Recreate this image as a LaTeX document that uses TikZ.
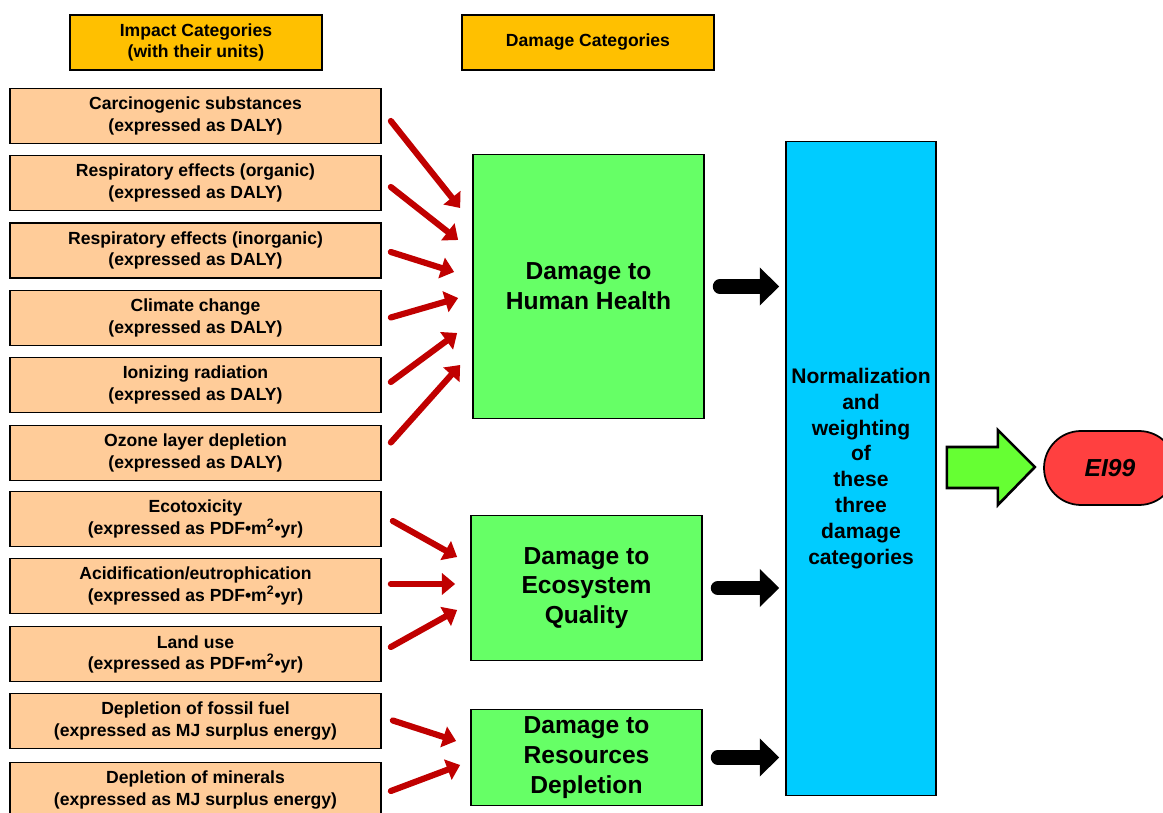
\documentclass[tikz,border=0pt]{standalone}
\usepackage{fontspec}
\setmainfont{Liberation Sans}
\usetikzlibrary{calc}
\usetikzlibrary{arrows.meta}
\usetikzlibrary{shapes.misc}
\definecolor{hdrorange}{HTML}{FFC000}
\definecolor{impactpeach}{HTML}{FFCC99}
\definecolor{dmggreen}{HTML}{66FF66}
\definecolor{normblue}{HTML}{00CCFF}
\definecolor{eired}{HTML}{FF4040}
\definecolor{arrred}{HTML}{C00000}
\definecolor{arrgreen}{HTML}{66FF33}

\begin{document}
\begin{tikzpicture}[x=0.02cm, y=-0.02cm,
    header/.style={rectangle, draw=black, line width=1pt, fill=hdrorange, inner sep=0pt, minimum width=5.04cm, minimum height=1.1cm, align=center, font=\fontsize{10}{11.5}\selectfont\bfseries},
    impact/.style={rectangle, draw=black, line width=1pt, fill=impactpeach, inner sep=0pt, minimum width=7.42cm, minimum height=1.1cm, align=center, font=\fontsize{10}{12}\selectfont\bfseries}]
    \tikzset{damage/.style={rectangle, draw=black, line width=1pt, fill=dmggreen, inner sep=0pt, minimum width=4.62cm, align=center, font=\fontsize{14}{17}\selectfont\bfseries}}
    \tikzset{redarr/.style={draw=arrred, line width=3.5pt, line cap=round, -{Triangle[width=12pt, length=7.5pt]}},
    blackarr/.style={draw=black, line width=8pt, line cap=round, -{Triangle[width=21pt, length=11pt]}, shorten <=8.5pt, shorten >=3.4pt}}
    \useasboundingbox (0,0) rectangle (1163,813);
    \def\unitpdf{(expressed as PDF\textbullet m\textsuperscript{2}\textbullet yr)}

    % headers
    \node[header] (h1) at (196,42.5) {Impact Categories\\(with their units)};
    \node[header] (h2) at (588,42.5) {Damage Categories};

    % impact categories
    \node[impact] (c1) at (195.5,116) {Carcinogenic substances\\(expressed as DALY)};
    \node[impact] (c2) at (195.5,183) {Respiratory effects (organic)\\(expressed as DALY)};
    \node[impact] (c3) at (195.5,250.5) {Respiratory effects (inorganic)\\(expressed as DALY)};
    \node[impact] (c4) at (195.5,318) {Climate change\\(expressed as DALY)};
    \node[impact] (c5) at (195.5,385) {Ionizing radiation\\(expressed as DALY)};
    \node[impact] (c6) at (195.5,453) {Ozone layer depletion\\(expressed as DALY)};
    \node[impact] (c7) at (195.5,519) {Ecotoxicity\\\unitpdf};
    \node[impact] (c8) at (195.5,586) {Acidification/eutrophication\\\unitpdf};
    \node[impact] (c9) at (195.5,654) {Land use\\\unitpdf};
    \node[impact] (c10) at (195.5,721) {Depletion of fossil fuel\\(expressed as MJ surplus energy)};
    \node[impact] (c11) at (195.5,790) {Depletion of minerals\\(expressed as MJ surplus energy)};

    % damage categories
    \node[damage, minimum height=5.28cm] (hh) at (588.5,286.5) {Damage to\\Human Health};
    \node[damage, minimum height=2.9cm] (eq) at (586.5,588) {Damage to\\Ecosystem\\Quality};
    \node[damage, minimum height=1.92cm] (rd) at (586.5,757.5) {Damage to\\Resources\\Depletion};

    \node[rectangle, draw=black, line width=1pt, fill=normblue, inner sep=0pt, minimum width=3cm, minimum height=13.08cm, align=center, font=\fontsize{12}{14.7}\selectfont\bfseries] (norm) at (861,468.5) {Normalization\\and\\weighting\\of\\these\\three\\damage\\categories};

    \node[rounded rectangle, draw=black, line width=1pt, fill=eired, inner sep=0pt, minimum width=2.64cm, minimum height=1.48cm, font=\fontsize{14}{17}\selectfont\bfseries\itshape] (ei) at (1110,468) {EI99};

    % red arrows
    \draw[redarr] ($(c1.east)+(9,5)$) -- ($(hh.west)+(-12,-78.5)$);
    \draw[redarr] ($(c2.east)+(9,4)$) -- ($(hh.west)+(-14,-46.5)$);
    \draw[redarr] ($(c3.east)+(9,1.5)$) -- ($(hh.west)+(-18,-14.5)$);
    \draw[redarr] ($(c4.east)+(9,-0.5)$) -- ($(hh.west)+(-14,11.5)$);
    \draw[redarr] ($(c5.east)+(9,-3)$) -- ($(hh.west)+(-15,46.5)$);
    \draw[redarr] ($(c6.east)+(9,-10.5)$) -- ($(hh.west)+(-12,78.5)$);
    \draw[redarr] ($(c7.east)+(11,2)$) -- ($(eq.west)+(-13,-31)$);
    \draw[redarr] ($(c8.east)+(9,-2)$) -- ($(eq.west)+(-15,-4)$);
    \draw[redarr] ($(c9.east)+(9,-7)$) -- ($(eq.west)+(-13,22)$);
    \draw[redarr] ($(c10.east)+(11,-0.5)$) -- ($(rd.west)+(-14,-16.5)$);
    \draw[redarr] ($(c11.east)+(9,1)$) -- ($(rd.west)+(-10,7.5)$);

    % black arrows
    \draw[blackarr] (hh.east) -- (hh.east -| norm.west);
    \draw[blackarr] (eq.east) -- (eq.east -| norm.west);
    \draw[blackarr] (rd.east) -- (rd.east -| norm.west);

    % green block arrow
    \draw[draw=black, line width=1.5pt, line join=miter, fill=arrgreen] ($(norm.east)+(10,-21.5)$) -- ++(51,0) -- ++(0,-17) -- ++(37,37) -- ++(-37,38) -- ++(0,-17) -- ++(-51,0) -- cycle;
\end{tikzpicture}
\end{document}
